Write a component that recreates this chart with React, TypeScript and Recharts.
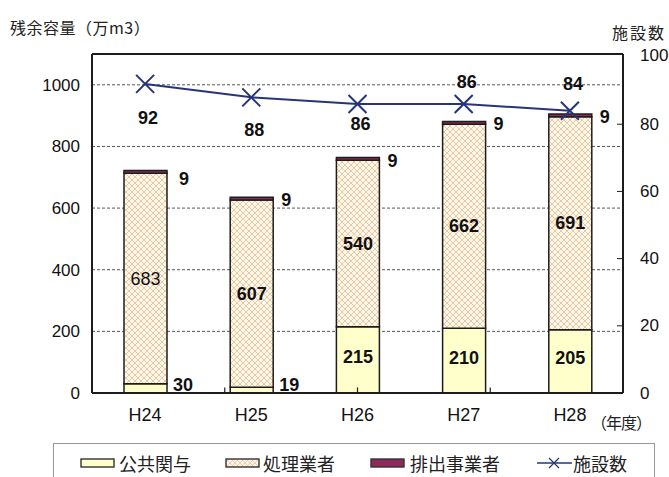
import React from "react";
import {
  ComposedChart,
  Bar,
  Line,
  XAxis,
  YAxis,
  CartesianGrid,
  ReferenceLine,
  LabelList,
} from "recharts";

// 年度
const years = ["H24", "H25", "H26", "H27", "H28"];
// 残余容量（万m3）
const publicInvolved = [30, 19, 215, 210, 205]; // 公共関与
const contractors = [683, 607, 540, 662, 691]; // 処理業者
const dischargers = [9, 9, 9, 9, 9]; // 排出事業者
// 施設数
const facilities = [92, 88, 86, 86, 84];

const leftTicks = [0, 200, 400, 600, 800, 1000];
const rightTicks = [0, 20, 40, 60, 80, 100];

const data = years.map((year, i) => ({
  year,
  publicInvolved: publicInvolved[i],
  contractors: contractors[i],
  dischargers: dischargers[i],
  facilities: facilities[i],
}));

// category boundaries on a 0..N scale, for the small in-plot tick marks
const boundaries = years.slice(1).map((_, i) => i + 1);

const W = 669;
const H = 477;
const PLOT_LEFT = 92;
const PLOT_RIGHT = 623;
const PLOT_TOP = 54;
const PLOT_BOTTOM = 393;

const NUM_FONT = "'Liberation Sans', Arial, sans-serif";
const JP_FONT = "'Noto Sans CJK JP', 'Noto Sans', sans-serif";

const LINE_COLOR = "#26347a";
const EDGE = "#1c1c1c";
const YELLOW = "#ffffcc";
const MAROON = "#8b2a5b";

// vertical offsets of the 施設数 labels relative to their markers
const facilityLabelDy = [34, 33, 20, -22, -27];

const XTick = (props: any) => {
  const { x, payload } = props;
  return (
    <text
      x={x}
      y={PLOT_BOTTOM + 22}
      textAnchor="middle"
      dominantBaseline="central"
      fontFamily={NUM_FONT}
      fontSize={18}
      fill="#111"
    >
      {payload.value}
    </text>
  );
};

const RightTick = (props: any) => {
  const { x, y, payload } = props;
  return (
    <g>
      {payload.value !== 0 && payload.value !== 100 && (
        <line x1={x - 6} x2={x} y1={y} y2={y} stroke={EDGE} strokeWidth={1} />
      )}
      <text
        x={x + 17}
        y={payload.value === 100 ? y - 2 : y}
        textAnchor="start"
        dominantBaseline="central"
        fontFamily={NUM_FONT}
        fontSize={17}
        fill="#111"
      >
        {payload.value}
      </text>
    </g>
  );
};

const CrossDot = (props: any) => {
  const { cx, cy, index } = props;
  const r = 9;
  return (
    <path
      key={`dot-${index}`}
      d={`M${cx - r},${cy - r}L${cx + r},${cy + r}M${cx - r},${cy + r}L${cx + r},${cy - r}`}
      stroke={LINE_COLOR}
      strokeWidth={2}
      fill="none"
    />
  );
};

const PublicLabel = (props: any) => {
  const { x, y, width, height, value } = props;
  const small = value < 100;
  return (
    <text
      x={small ? x + width + 6 : x + width / 2}
      y={small ? y + height - 8 : y + height / 2 - 3}
      textAnchor={small ? "start" : "middle"}
      dominantBaseline="central"
      fontFamily={NUM_FONT}
      fontWeight="bold"
      fontSize={18}
      fill="#111"
    >
      {value}
    </text>
  );
};

const ContractorLabel = (props: any) => {
  const { x, y, width, height, value, index } = props;
  return (
    <text
      x={x + width / 2}
      y={y + height / 2}
      textAnchor="middle"
      dominantBaseline="central"
      fontFamily={NUM_FONT}
      fontWeight={index === 0 ? "normal" : "bold"}
      fontSize={18}
      fill="#111"
    >
      {value}
    </text>
  );
};

const DischargerLabel = (props: any) => {
  const { x, y, width, value, index } = props;
  return (
    <text
      x={x + width + (index === 0 ? 12 : 8)}
      y={y + (index === 0 ? 9 : 3)}
      textAnchor="start"
      dominantBaseline="central"
      fontFamily={NUM_FONT}
      fontWeight="bold"
      fontSize={18}
      fill="#111"
    >
      {value}
    </text>
  );
};

const FacilityLabel = (props: any) => {
  const { x, y, value, index } = props;
  return (
    <text
      x={x + 3}
      y={y + facilityLabelDy[index]}
      textAnchor="middle"
      dominantBaseline="central"
      fontFamily={NUM_FONT}
      fontWeight="bold"
      fontSize={18}
      fill="#111"
    >
      {value}
    </text>
  );
};

const legendItems = [
  { label: "公共関与", kind: "yellow", sx: 80, tx: 119 },
  { label: "処理業者", kind: "hatch", sx: 225, tx: 263 },
  { label: "排出事業者", kind: "maroon", sx: 370, tx: 410 },
  { label: "施設数", kind: "line", sx: 537, tx: 573 },
];

const Swatch = ({ kind }: { kind: string }) => {
  if (kind === "line") {
    return (
      <svg width={35} height={14} style={{ display: "block" }}>
        <line x1={0} x2={35} y1={7} y2={7} stroke={LINE_COLOR} strokeWidth={1.5} />
        <path d="M12,2L22,12M12,12L22,2" stroke={LINE_COLOR} strokeWidth={1.2} />
      </svg>
    );
  }
  return (
    <svg width={35} height={10} style={{ display: "block" }}>
      <defs>
        <pattern id="hatchLegend" width={5} height={5} patternUnits="userSpaceOnUse">
          <rect width={5} height={5} fill="#fff6e8" />
          <path d="M0,0L5,5M5,0L0,5" stroke="#e8c49c" strokeWidth={0.8} />
        </pattern>
      </defs>
      <rect
        x={1}
        y={1}
        width={33}
        height={8}
        fill={kind === "yellow" ? YELLOW : kind === "maroon" ? MAROON : "url(#hatchLegend)"}
        stroke="#333"
        strokeWidth={1.4}
      />
    </svg>
  );
};

export default function App() {
  return (
    <div style={{ position: "absolute", left: 0, top: 0, width: W, height: H, background: "#fff" }}>
      <ComposedChart
        width={W}
        height={H}
        data={data}
        margin={{ top: PLOT_TOP, right: 0, bottom: 0, left: 0 }}
        barCategoryGap="30%"
      >
        <defs>
          <pattern id="hatch" width={6} height={6} patternUnits="userSpaceOnUse">
            <rect width={6} height={6} fill="#fff7ea" />
            <path d="M0,0L6,6M6,0L0,6" stroke="#ebc8a0" strokeWidth={1} />
          </pattern>
        </defs>
        <CartesianGrid
          yAxisId="left"
          vertical={false}
          stroke="#555"
          strokeDasharray="3 2"
          strokeWidth={1}
        />
        <XAxis
          dataKey="year"
          height={H - PLOT_BOTTOM}
          axisLine={{ stroke: EDGE, strokeWidth: 2 }}
          tickLine={false}
          tickSize={0}
          tickMargin={0}
          tick={<XTick />}
          interval={0}
        />
        <XAxis
          xAxisId="band"
          type="number"
          domain={[0, years.length]}
          hide
        />
        <YAxis
          yAxisId="left"
          width={PLOT_LEFT}
          domain={[0, 1100]}
          ticks={leftTicks}
          allowDataOverflow
          axisLine={{ stroke: EDGE, strokeWidth: 2 }}
          tickLine={false}
          tickSize={0}
          tickMargin={12}
          tick={{ fontFamily: NUM_FONT, fontSize: 17, fill: "#111" }}
        />
        <YAxis
          yAxisId="right"
          orientation="right"
          width={W - PLOT_RIGHT}
          domain={[0, 100.9]}
          ticks={rightTicks}
          allowDataOverflow
          axisLine={{ stroke: EDGE, strokeWidth: 2 }}
          tickLine={false}
          tickSize={0}
          tickMargin={0}
          tick={<RightTick />}
        />
        <ReferenceLine yAxisId="left" y={1100} stroke={EDGE} strokeWidth={2} ifOverflow="visible" />
        {boundaries.map((b) => (
          <ReferenceLine
            key={`b-${b}`}
            xAxisId="band"
            yAxisId="left"
            segment={[
              { x: b, y: 0 },
              { x: b, y: 18 },
            ]}
            stroke={EDGE}
            strokeWidth={1.2}
          />
        ))}
        <Bar
          yAxisId="left"
          dataKey="publicInvolved"
          stackId="s"
          fill={YELLOW}
          stroke={EDGE}
          strokeWidth={1.5}
          barSize={43}
          isAnimationActive={false}
        >
          <LabelList dataKey="publicInvolved" content={<PublicLabel />} />
        </Bar>
        <Bar
          yAxisId="left"
          dataKey="contractors"
          stackId="s"
          fill="url(#hatch)"
          stroke={EDGE}
          strokeWidth={1.5}
          barSize={43}
          isAnimationActive={false}
        >
          <LabelList dataKey="contractors" content={<ContractorLabel />} />
        </Bar>
        <Bar
          yAxisId="left"
          dataKey="dischargers"
          stackId="s"
          fill={MAROON}
          stroke={EDGE}
          strokeWidth={1.5}
          barSize={43}
          isAnimationActive={false}
        >
          <LabelList dataKey="dischargers" content={<DischargerLabel />} />
        </Bar>
        <Line
          yAxisId="right"
          dataKey="facilities"
          type="linear"
          stroke={LINE_COLOR}
          strokeWidth={2}
          dot={<CrossDot />}
          activeDot={false}
          isAnimationActive={false}
        >
          <LabelList dataKey="facilities" content={<FacilityLabel />} />
        </Line>
      </ComposedChart>

      <div
        style={{
          position: "absolute",
          left: 10,
          top: 18,
          fontFamily: JP_FONT,
          fontSize: 16,
          letterSpacing: 0.5,
          lineHeight: "18px",
          color: "#222",
          whiteSpace: "nowrap",
        }}
      >
        残余容量（万m3）
      </div>
      <div
        style={{
          position: "absolute",
          left: 612,
          top: 23,
          fontFamily: JP_FONT,
          fontSize: 16,
          letterSpacing: 2,
          lineHeight: "18px",
          color: "#222",
          whiteSpace: "nowrap",
        }}
      >
        施設数
      </div>
      <div
        style={{
          position: "absolute",
          left: 591,
          top: 413,
          fontFamily: JP_FONT,
          fontSize: 16,
          letterSpacing: -1,
          lineHeight: "18px",
          color: "#222",
          whiteSpace: "nowrap",
        }}
      >
        （年度）
      </div>

      <div
        style={{
          position: "absolute",
          left: 53,
          top: 443,
          width: 602,
          height: 40,
          border: "1.5px solid #999",
          borderBottom: "none",
          boxSizing: "border-box",
        }}
      />
      {legendItems.map((item) => (
        <React.Fragment key={item.label}>
          <div
            style={{
              position: "absolute",
              left: item.sx,
              top: item.kind === "line" ? 456 : 458,
            }}
          >
            <Swatch kind={item.kind} />
          </div>
          <div
            style={{
              position: "absolute",
              left: item.tx,
              top: 453,
              fontFamily: JP_FONT,
              fontSize: 18,
              lineHeight: "20px",
              color: "#222",
              whiteSpace: "nowrap",
            }}
          >
            {item.label}
          </div>
        </React.Fragment>
      ))}
    </div>
  );
}
